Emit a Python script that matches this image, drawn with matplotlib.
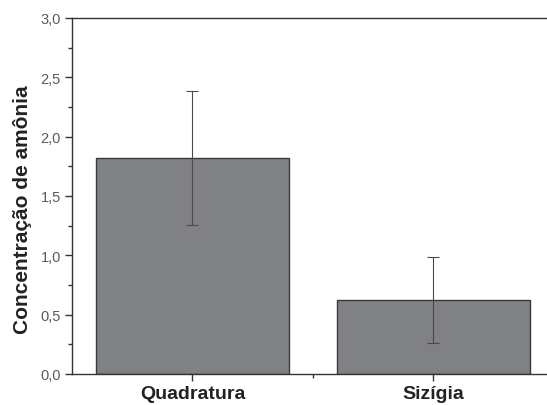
import matplotlib.pyplot as plt
from matplotlib.ticker import MultipleLocator, FixedLocator

plt.rcParams['font.family'] = ['Liberation Sans', 'DejaVu Sans']

# Data
categories = ["Quadratura", "Sizígia"]
means = [1.82, 0.625]
errors = [0.565, 0.36]
y_ticks = [0.0, 0.5, 1.0, 1.5, 2.0, 2.5, 3.0]
y_tick_labels = ["0,0", "0,5", "1,0", "1,5", "2,0", "2,5", "3,0"]

fig = plt.figure(figsize=(5.47, 4.06), dpi=100)
ax = fig.add_axes([0.1316, 0.0764, 0.881, 0.877])

x = range(len(categories))
ax.bar(x, means, width=0.8, color="#808184", edgecolor="#3a3a3a", linewidth=1.0, zorder=2)
ax.errorbar(x, means, yerr=errors, fmt="none", ecolor="#4a4a4a", elinewidth=0.8,
            capsize=4, capthick=0.8, zorder=3)

ax.set_xlim(-0.5, 1.5)
ax.set_ylim(0, 3.0)
ax.set_xticks(list(x))
ax.set_xticklabels(categories, fontsize=14, fontweight="bold", color="#222222")
ax.xaxis.set_minor_locator(FixedLocator([0.5]))
ax.set_yticks(y_ticks)
ax.set_yticklabels(y_tick_labels, fontsize=10.5, color="#5a5a5a")
ax.yaxis.set_minor_locator(MultipleLocator(0.25))

ax.tick_params(axis="both", which="major", direction="out", length=5, width=1, color="#333333")
ax.tick_params(axis="both", which="minor", direction="out", length=3, width=1, color="#333333")
ax.tick_params(axis="x", pad=3)
ax.tick_params(axis="y", pad=3)

ax.set_ylabel("Concentração de amônia", fontsize=15, fontweight="bold", color="#222222")
ax.yaxis.set_label_coords(-0.083, 0.463)

for s in ax.spines.values():
    s.set_color("#333333")
    s.set_linewidth(1.0)

plt.savefig("out.png", dpi=100)
plt.close()
